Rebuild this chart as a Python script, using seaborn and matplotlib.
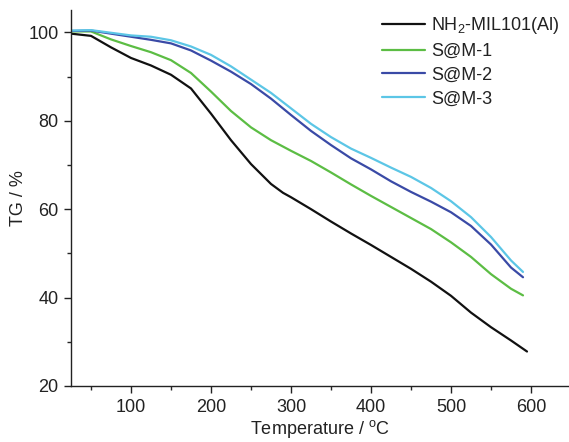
import numpy as np
import pandas as pd
import matplotlib
matplotlib.use("Agg")
import matplotlib.pyplot as plt
from matplotlib.ticker import MultipleLocator
import seaborn as sns

# Thermogravimetric curves (temperature in degC, remaining mass in %)
temp_parent = [25, 50, 75, 100, 125, 150, 175, 200, 225, 250, 275, 290, 300, 325, 350,
               375, 400, 425, 450, 475, 500, 525, 550, 575, 595]
tg_parent = [99.7, 99.2, 96.6, 94.2, 92.5, 90.4, 87.3, 81.6, 75.6, 70.2, 65.7, 63.7, 62.7,
             60.0, 57.2, 54.5, 51.9, 49.2, 46.5, 43.6, 40.4, 36.6, 33.3, 30.3, 27.8]

temp_loaded = [25, 50, 75, 100, 125, 150, 175, 200, 225, 250, 275, 300, 325, 350,
               375, 400, 425, 450, 475, 500, 525, 550, 575, 590]
tg_sm1 = [100.2, 100.2, 98.4, 96.9, 95.5, 93.7, 90.8, 86.6, 82.2, 78.5, 75.6, 73.2,
          70.9, 68.3, 65.6, 63.0, 60.5, 58.0, 55.5, 52.5, 49.2, 45.3, 42.0, 40.5]
tg_sm2 = [100.3, 100.4, 99.7, 99.0, 98.3, 97.5, 95.9, 93.6, 91.1, 88.3, 85.0, 81.3,
          77.7, 74.5, 71.5, 69.0, 66.3, 63.9, 61.7, 59.3, 56.2, 52.0, 46.8, 44.6]
tg_sm3 = [100.4, 100.5, 99.9, 99.3, 99.0, 98.2, 96.8, 94.9, 92.3, 89.3, 86.3, 82.8,
          79.3, 76.3, 73.7, 71.6, 69.4, 67.3, 64.8, 61.8, 58.2, 53.7, 48.4, 45.8]

samples = ["NH$_2$-MIL101(Al)", "S@M-1", "S@M-2", "S@M-3"]
colors = ["#111111", "#5cbd44", "#3a4aa6", "#5cc6e6"]

frames = []
for name, t, v in zip(samples,
                      [temp_parent, temp_loaded, temp_loaded, temp_loaded],
                      [tg_parent, tg_sm1, tg_sm2, tg_sm3]):
    frames.append(pd.DataFrame({"T": t, "TG": v, "sample": name}))
df = pd.concat(frames, ignore_index=True)

sns.set_style("ticks")
plt.rcParams["font.family"] = ["Liberation Sans", "DejaVu Sans"]
plt.rcParams["mathtext.fontset"] = "custom"
plt.rcParams["mathtext.rm"] = "Liberation Sans"
plt.rcParams["mathtext.it"] = "Liberation Sans"
plt.rcParams["mathtext.default"] = "regular"

fig = plt.figure(figsize=(5.69, 4.42), dpi=100)
ax = fig.add_axes([71 / 569, 1 - 386 / 442, (569 - 71) / 569, (386 - 10) / 442])

sns.lineplot(data=df, x="T", y="TG", hue="sample", palette=colors,
             hue_order=samples, sort=False, linewidth=1.6, ax=ax, legend=True)
for line in ax.get_lines():
    line.set_solid_joinstyle("round")

ax.set_xlim(25, 647.5)
ax.set_ylim(20, 105.05)
ax.xaxis.set_major_locator(MultipleLocator(100))
ax.xaxis.set_minor_locator(MultipleLocator(50))
ax.yaxis.set_major_locator(MultipleLocator(20))
ax.yaxis.set_minor_locator(MultipleLocator(10))
ax.tick_params(axis="both", which="major", direction="out", length=5, width=1.0,
               labelsize=13, colors="#222222", pad=4)
ax.tick_params(axis="both", which="minor", direction="out", length=3, width=1.0)
for s in ["top", "right"]:
    ax.spines[s].set_visible(False)
for s in ["left", "bottom"]:
    ax.spines[s].set_linewidth(1.0)
    ax.spines[s].set_color("#222222")

ax.set_xlabel("Temperature / $^{o}$C", fontsize=13, color="#222222", labelpad=2)
ax.set_ylabel("TG / %", fontsize=13, color="#222222", labelpad=1)

leg = ax.legend(loc="upper left", bbox_to_anchor=(382 / 569, 1 - 15 / 442),
                bbox_transform=fig.transFigure, frameon=False, fontsize=13,
                handlelength=2.4, handletextpad=0.3, labelspacing=0.38,
                borderaxespad=0, borderpad=0)
for line in leg.get_lines():
    line.set_linewidth(1.6)
for txt in leg.get_texts():
    txt.set_color("#222222")

fig.savefig("out.png", dpi=100)
